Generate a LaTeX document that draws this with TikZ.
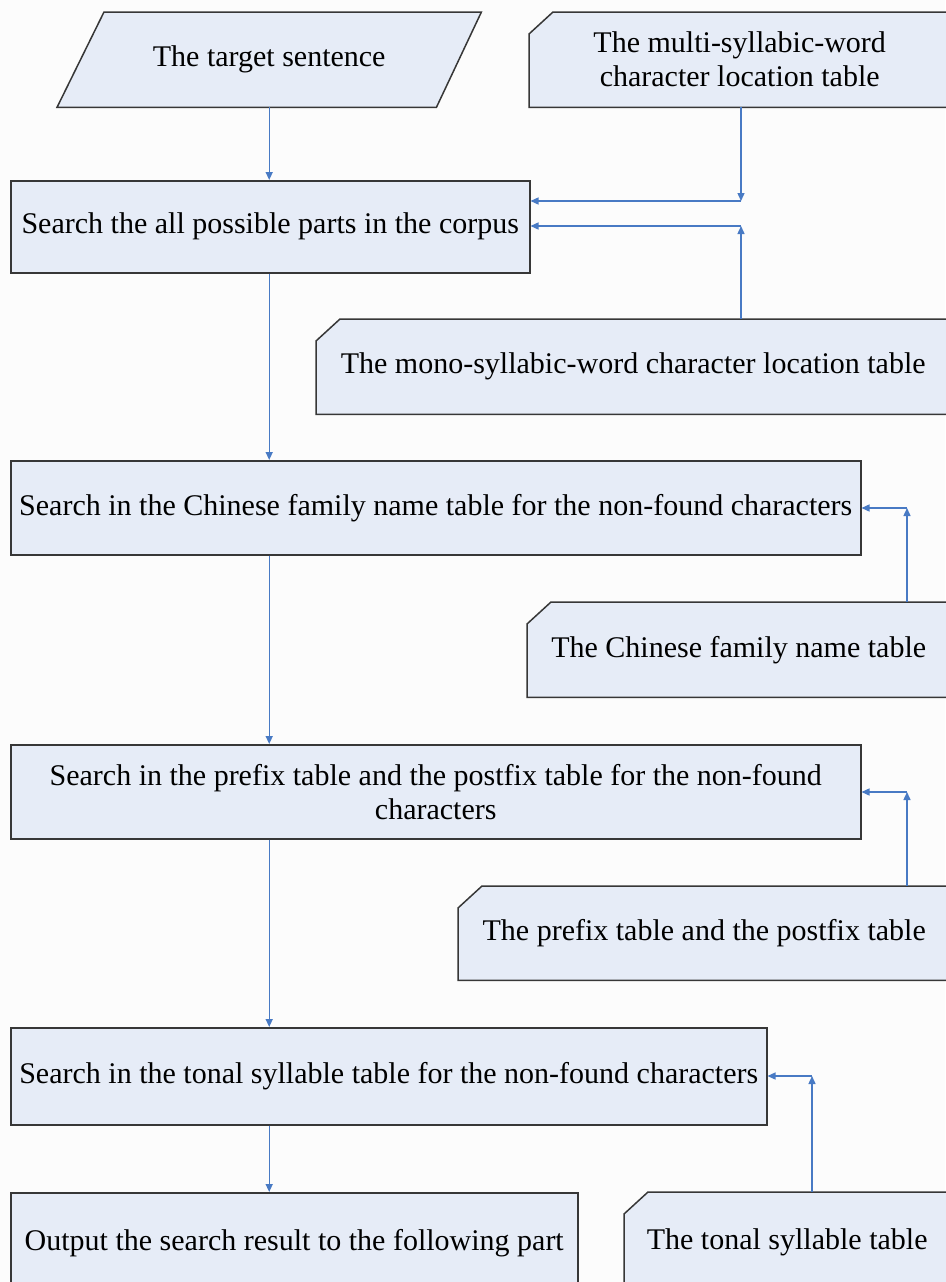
\documentclass[tikz,border=0pt]{standalone}
\usepackage{fontspec}
\setmainfont{Liberation Serif}
\usetikzlibrary{arrows.meta,backgrounds}
\definecolor{boxfill}{RGB}{230,236,247}
\definecolor{boxline}{RGB}{55,55,55}
\definecolor{flow}{RGB}{72,122,196}
\definecolor{paper}{RGB}{252,252,252}
\begin{document}
\begin{tikzpicture}[x=1pt,y=-1pt,
  every node/.style={font=\fontsize{30}{34}\selectfont, inner sep=0pt, align=center, anchor=north west},
  proc/.style={rectangle, draw=boxline, fill=boxfill, line width=1.5pt},
  card/.style={rectangle},
  conn/.style={draw=flow, line width=1.4pt, -{Triangle[length=8pt,width=7pt]}},
  outline/.style={draw=boxline, fill=boxfill, line width=1.5pt, line join=miter}]

% page
\useasboundingbox (0,0) rectangle (945,1282);
\begin{pgfonlayer}{background}
  \fill[paper] (0,0) rectangle (945,1282);
\end{pgfonlayer}

% input and data tables
\node[card, minimum width=424, minimum height=95] (tgt) at (57,12) {The target sentence};
\node[card, minimum width=421, minimum height=95] (multi) at (529,12) {The multi-syllabic-word\\character location table};
\node[card, minimum width=634, minimum height=95] (mono) at (316,319) {The mono-syllabic-word character location table};
\node[card, minimum width=423, minimum height=95] (fam) at (527,602) {The Chinese family name table};
\node[card, minimum width=492, minimum height=94] (pre) at (458,886) {The prefix table and the postfix table};
\node[card, minimum width=326, minimum height=100] (ton) at (624,1192) {The tonal syllable table};

% processing steps
\node[proc, minimum width=519, minimum height=92] (s1) at (10,180) {Search the all possible parts in the corpus};
\node[proc, minimum width=850, minimum height=94] (s2) at (10,460) {Search in the Chinese family name table for the non-found characters};
\node[proc, minimum width=850, minimum height=94] (s3) at (10,744) {Search in the prefix table and the postfix table for the non-found\\characters};
\node[proc, minimum width=756, minimum height=97] (s4) at (10,1027) {Search in the tonal syllable table for the non-found characters};
\node[proc, minimum width=567, minimum height=100] (out) at (10,1192) {Output the search result to the following part};

% outlines of the input parallelogram and the cut-corner tables
\begin{pgfonlayer}{background}
  \path[outline] ([xshift=47pt]tgt.north west) -- (tgt.north east)
    -- ([xshift=-45pt]tgt.south east) -- (tgt.south west) -- cycle;
  \foreach \c in {multi,mono,fam,pre,ton}{
    \path[outline] ([xshift=24pt]\c.north west) -- (\c.north east) -- (\c.south east)
      -- (\c.south west) -- ([yshift=-22pt]\c.north west) -- cycle;
  }
\end{pgfonlayer}

% bends of the side connectors
\coordinate (j1) at (741,201);
\coordinate (j2) at (741,226);
\coordinate (j3) at (907,508);
\coordinate (j4) at (907,792);
\coordinate (j5) at (812,1076);

% main flow
\draw[conn] (tgt.south) -- (tgt.south |- s1.north);
\draw[conn] (s1.south -| tgt.south) -- (s2.north -| tgt.south);
\draw[conn] (s2.south -| tgt.south) -- (s3.north -| tgt.south);
\draw[conn] (s3.south -| tgt.south) -- (s4.north -| tgt.south);
\draw[conn] (s4.south -| tgt.south) -- (out.north -| tgt.south);

% table inputs
\draw[conn] (multi.south -| j1) -- (j1);
\draw[conn] (j1) -- (j1 -| s1.east);
\draw[conn] (mono.north -| j2) -- (j2);
\draw[conn] (j2) -- (j2 -| s1.east);
\draw[conn] (fam.north -| j3) -- (j3);
\draw[conn] (j3) -- (j3 -| s2.east);
\draw[conn] (pre.north -| j4) -- (j4);
\draw[conn] (j4) -- (j4 -| s3.east);
\draw[conn] (ton.north -| j5) -- (j5);
\draw[conn] (j5) -- (j5 -| s4.east);
\end{tikzpicture}
\end{document}
